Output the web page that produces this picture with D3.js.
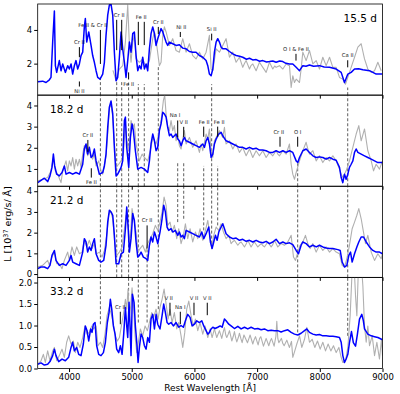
<!DOCTYPE html>
<html>
<head>
<meta charset="utf-8">
<script src="https://cdn.jsdelivr.net/npm/d3@7"></script>
<style>
body { margin: 0; background: #fff; }
svg text { font-family: "DejaVu Sans", sans-serif; }
</style>
</head>
<body>
<svg id="chart" width="400" height="394"></svg>
<script>
// wavelength range and epochs
const waveRange = [3500, 9000];
const xTicks = [4000, 5000, 6000, 7000, 8000, 9000];
const epochs = ["15.5 d", "18.2 d", "21.2 d", "33.2 d"];
const yDomains = [[0.13, 5.54], [0.18, 4.49], [-0.16, 4.24], [0, 2.12]];
const yTicks = [[2, 4], [1, 2, 3, 4], [0, 1, 2, 3, 4], [0, 0.5, 1, 1.5, 2]];

// spectra, [wavelength, luminosity]
const blue155 = [[3500,0.92],[3579,0.96],[3633,0.88],[3686,1.04],[3712,1.18],[3739,3.28],[3766,5.12],[3782,1.88],[3803,1.48],[3845,2.18],[3872,1.58],[3899,1.98],[3941,1.48],[3978,1.88],[4005,1.68],[4032,1.98],[4058,1.38],[4085,1.88],[4111,2.18],[4138,1.68],[4165,1.98],[4191,2.48],[4218,2.68],[4244,4.18],[4260,4.68],[4282,3.28],[4314,3.88],[4351,3.08],[4377,2.48],[4404,2.08],[4431,1.58],[4457,1.18],[4494,1.08],[4537,1.38],[4564,2.08],[4590,3.68],[4617,4.88],[4643,5.48],[4670,5.52],[4697,4.88],[4723,2.68],[4750,0.98],[4776,1.18],[4803,2.38],[4830,3.88],[4856,2.88],[4883,2.08],[4909,1.18],[4936,2.18],[4963,3.28],[4989,2.68],[5016,3.78],[5042,3.88],[5069,2.48],[5096,1.58],[5122,1.88],[5149,1.68],[5175,2.38],[5202,1.68],[5229,1.98],[5255,1.58],[5282,2.88],[5308,3.78],[5335,4.18],[5362,3.78],[5388,3.08],[5415,3.48],[5441,3.78],[5468,4.08],[5495,3.88],[5521,3.58],[5548,3.28],[5574,3.08],[5601,3.28],[5654,3.18],[5707,3.08],[5760,3.12],[5814,2.92],[5867,2.88],[5920,2.72],[5973,2.68],[6026,2.68],[6080,2.48],[6133,2.38],[6186,2.18],[6213,1.88],[6239,1.38],[6266,1.28],[6293,1.68],[6319,2.68],[6346,3.28],[6372,3.48],[6399,3.28],[6426,2.98],[6452,2.88],[6505,2.88],[6559,2.72],[6612,2.58],[6665,2.48],[6720,2.44],[6771,2.38],[6830,2.26],[6878,2.32],[6930,2.22],[6984,2.24],[7040,2.14],[7091,2.18],[7150,2.10],[7197,2.12],[7250,2.16],[7303,2.08],[7360,2.16],[7410,2.12],[7460,2.02],[7516,1.98],[7569,1.98],[7623,1.78],[7676,1.58],[7729,1.88],[7780,1.84],[7835,1.92],[7900,1.84],[7995,1.88],[8070,1.80],[8155,1.78],[8261,1.68],[8341,1.48],[8394,0.88],[8447,1.38],[8500,1.48],[8554,1.68],[8620,1.70],[8687,1.64],[8793,1.58],[8899,1.38],[9000,1.38]];
const grey155 = [[4700,1.6],[4750,1.0],[4803,1.68],[4856,1.88],[4899,3.28],[4936,5.48],[4963,3.08],[4989,2.08],[5016,3.28],[5042,3.68],[5069,2.28],[5122,2.08],[5175,2.28],[5229,1.78],[5282,2.18],[5335,3.48],[5362,3.88],[5399,3.08],[5441,1.88],[5468,2.08],[5495,3.68],[5521,4.18],[5548,3.88],[5601,3.08],[5654,3.48],[5707,2.78],[5760,2.68],[5814,3.48],[5867,2.68],[5920,3.18],[5973,2.48],[6026,2.28],[6080,2.68],[6133,2.28],[6186,2.68],[6239,3.68],[6266,1.68],[6293,1.58],[6346,2.88],[6399,2.68],[6452,3.08],[6505,3.48],[6559,2.38],[6612,2.68],[6665,2.08],[6718,2.38],[6771,1.78],[6800,2.02],[6825,2.18],[6878,1.68],[6905,1.90],[6931,1.98],[6984,1.58],[7037,2.08],[7091,1.78],[7144,1.48],[7197,2.08],[7250,1.68],[7280,1.86],[7303,1.78],[7357,1.88],[7410,1.68],[7463,1.98],[7516,1.88],[7543,0.58],[7569,1.28],[7596,0.88],[7623,1.08],[7676,0.88],[7702,1.68],[7729,2.68],[7782,2.18],[7835,2.78],[7889,1.98],[7942,2.18],[7995,1.68],[8048,2.38],[8101,1.88],[8155,2.38],[8208,1.78],[8261,1.78],[8314,1.18],[8367,1.08],[8410,0.78],[8447,1.18],[8500,1.78],[8554,2.38],[8607,2.98],[8660,3.18],[8713,2.28],[8766,1.68],[8820,1.48],[8873,1.58],[8926,2.08],[8979,1.58]];

const blue182 = [[3500,0.35],[3553,0.46],[3606,0.56],[3659,0.40],[3696,0.67],[3728,1.07],[3750,1.70],[3771,1.14],[3803,0.75],[3845,0.67],[3888,0.83],[3925,1.14],[3952,0.75],[4005,0.83],[4058,0.75],[4111,0.83],[4165,0.75],[4218,1.22],[4244,1.94],[4271,2.18],[4297,1.70],[4324,2.02],[4351,1.54],[4377,1.62],[4404,1.94],[4431,1.38],[4484,0.75],[4537,0.83],[4564,1.14],[4590,1.70],[4617,2.97],[4643,3.92],[4670,4.21],[4697,3.60],[4723,2.02],[4750,0.67],[4776,0.75],[4803,0.91],[4830,1.07],[4856,1.38],[4883,3.29],[4899,3.45],[4920,2.02],[4952,1.07],[4979,2.49],[5005,3.13],[5026,2.81],[5058,1.86],[5096,0.99],[5149,1.07],[5202,0.99],[5255,0.83],[5282,1.38],[5308,2.18],[5335,2.65],[5362,2.33],[5388,1.86],[5415,2.02],[5441,2.81],[5468,3.13],[5495,3.68],[5521,3.60],[5548,3.45],[5574,2.97],[5601,2.57],[5627,2.65],[5654,2.49],[5707,2.65],[5734,2.41],[5760,2.33],[5787,2.10],[5814,2.33],[5840,2.49],[5867,2.33],[5920,2.26],[5973,2.18],[6026,2.10],[6080,2.02],[6133,2.18],[6160,2.02],[6186,2.33],[6213,2.49],[6239,2.18],[6266,1.54],[6293,1.70],[6319,2.18],[6346,2.41],[6388,2.65],[6426,2.73],[6452,2.57],[6505,2.33],[6559,2.26],[6612,2.18],[6665,2.10],[6718,2.02],[6771,2.02],[6825,1.94],[6878,2.02],[6931,1.94],[6984,1.98],[7037,1.89],[7091,1.89],[7144,1.86],[7197,1.78],[7250,1.78],[7303,1.86],[7357,1.78],[7410,1.86],[7463,1.78],[7516,1.86],[7569,1.78],[7623,1.38],[7649,1.30],[7676,1.54],[7729,1.86],[7782,1.94],[7835,1.78],[7889,1.62],[7942,1.54],[7995,1.57],[8048,1.54],[8101,1.46],[8155,1.54],[8208,1.46],[8261,1.41],[8314,1.07],[8341,0.59],[8367,0.35],[8394,0.75],[8420,0.51],[8447,0.75],[8473,1.07],[8500,1.22],[8527,1.38],[8554,1.78],[8580,1.94],[8607,1.78],[8660,1.70],[8713,1.62],[8766,1.54],[8820,1.46],[8873,1.38],[8926,1.30],[9000,1.30]];
const grey182 = [[3500,0.43],[3579,0.51],[3659,0.59],[3712,0.91],[3750,1.54],[3782,0.91],[3819,0.75],[3872,0.35],[3899,0.91],[3952,1.38],[3978,0.91],[4005,1.38],[4032,1.14],[4058,1.54],[4085,0.99],[4111,1.46],[4138,1.14],[4165,1.46],[4191,1.07],[4218,1.70],[4244,2.10],[4271,1.94],[4297,1.62],[4324,1.86],[4377,1.46],[4404,1.70],[4431,1.14],[4473,1.38],[4510,0.91],[4537,0.75],[4590,1.62],[4617,2.65],[4643,3.84],[4670,4.08],[4697,3.45],[4723,2.18],[4750,1.07],[4792,1.22],[4830,1.38],[4867,1.70],[4899,3.13],[4920,2.33],[4952,1.86],[4989,3.29],[5016,2.97],[5042,3.13],[5069,2.18],[5096,1.78],[5122,1.38],[5165,1.70],[5202,1.54],[5255,1.38],[5308,2.02],[5335,2.49],[5388,2.18],[5431,2.65],[5468,3.29],[5505,4.24],[5526,4.48],[5548,3.60],[5574,2.97],[5601,2.81],[5627,3.29],[5654,2.81],[5680,3.05],[5707,2.33],[5734,2.57],[5760,2.10],[5787,1.94],[5814,2.41],[5840,2.81],[5867,2.18],[5920,2.49],[5973,2.02],[6026,2.33],[6080,1.78],[6106,2.18],[6133,1.86],[6186,2.65],[6213,2.41],[6239,2.89],[6266,1.86],[6293,1.54],[6319,2.33],[6346,2.49],[6399,2.81],[6452,2.49],[6479,2.97],[6505,2.18],[6559,2.33],[6612,1.94],[6640,2.10],[6665,2.18],[6718,1.78],[6771,2.02],[6800,1.80],[6825,1.62],[6878,1.94],[6931,1.54],[6960,1.72],[6984,1.86],[7037,1.62],[7091,1.86],[7144,1.54],[7197,1.78],[7250,1.62],[7303,1.86],[7330,1.70],[7357,1.62],[7410,1.86],[7463,1.70],[7516,2.18],[7543,1.22],[7569,0.75],[7596,0.51],[7623,0.83],[7676,1.38],[7729,1.86],[7782,2.26],[7809,1.94],[7835,1.70],[7889,1.86],[7942,1.38],[7995,1.62],[8048,1.30],[8101,1.54],[8155,1.38],[8208,1.62],[8261,1.38],[8314,0.99],[8341,0.75],[8367,0.59],[8420,0.91],[8473,1.38],[8527,2.02],[8580,2.65],[8622,3.05],[8660,2.33],[8713,2.89],[8766,1.86],[8820,1.38],[8857,0.91],[8899,1.22],[8952,0.99],[9000,1.38]];

const blue212 = [[3500,0.26],[3553,0.34],[3606,0.34],[3659,0.26],[3696,0.42],[3728,0.90],[3766,1.14],[3792,0.66],[3845,0.42],[3899,0.50],[3952,0.42],[4005,0.66],[4032,0.90],[4058,0.58],[4111,0.50],[4165,0.42],[4218,1.06],[4244,1.71],[4271,1.55],[4297,1.06],[4324,1.31],[4351,1.14],[4377,1.47],[4404,1.71],[4431,0.98],[4473,0.66],[4510,0.58],[4553,0.66],[4590,1.39],[4617,2.51],[4643,3.08],[4670,3.00],[4697,2.84],[4723,1.87],[4750,0.50],[4792,0.50],[4830,0.98],[4867,1.06],[4899,2.19],[4920,3.24],[4941,2.35],[4963,1.06],[4989,1.71],[5016,2.92],[5042,2.59],[5069,1.55],[5096,0.82],[5122,0.90],[5149,1.06],[5186,0.82],[5229,0.74],[5255,0.66],[5282,1.39],[5308,1.79],[5335,1.55],[5362,2.03],[5388,1.79],[5415,1.47],[5451,2.03],[5484,2.67],[5510,3.32],[5537,3.00],[5564,2.27],[5590,2.11],[5627,2.19],[5654,2.03],[5696,2.11],[5734,1.87],[5760,2.03],[5787,1.79],[5814,1.87],[5840,1.71],[5867,2.11],[5920,2.03],[5973,1.95],[6026,1.87],[6080,1.79],[6117,2.03],[6149,1.71],[6186,1.95],[6229,2.27],[6255,1.55],[6282,1.23],[6308,1.55],[6335,1.87],[6362,1.63],[6388,2.03],[6426,2.27],[6452,2.43],[6479,2.19],[6505,1.95],[6559,1.79],[6612,1.71],[6665,1.74],[6718,1.63],[6771,1.68],[6825,1.58],[6878,1.63],[6931,1.55],[6984,1.63],[7037,1.55],[7091,1.51],[7144,1.58],[7197,1.47],[7250,1.55],[7303,1.68],[7357,1.47],[7410,1.55],[7463,1.47],[7516,1.51],[7569,1.42],[7623,1.14],[7660,0.98],[7702,1.39],[7729,1.55],[7782,1.47],[7835,1.31],[7889,1.39],[7942,1.31],[7995,1.39],[8048,1.31],[8101,1.26],[8155,1.23],[8208,1.23],[8288,1.18],[8325,1.14],[8357,0.58],[8394,0.34],[8431,0.42],[8463,0.90],[8490,1.06],[8516,0.58],[8554,0.98],[8591,1.31],[8622,1.55],[8660,1.79],[8697,1.79],[8740,1.55],[8793,1.31],[8846,1.14],[8899,1.06],[8952,1.06],[9000,0.98]];
const grey212 = [[3500,0.34],[3579,0.42],[3659,0.66],[3686,0.42],[3728,0.82],[3766,1.06],[3803,0.50],[3845,0.50],[3888,0.26],[3925,0.66],[3978,1.06],[4005,0.66],[4047,1.31],[4085,0.90],[4122,1.31],[4165,0.98],[4207,1.06],[4244,1.63],[4282,1.31],[4324,1.63],[4367,1.23],[4404,1.47],[4441,0.98],[4484,1.06],[4526,0.82],[4564,1.14],[4601,1.87],[4633,2.84],[4659,3.08],[4697,2.67],[4728,1.55],[4760,0.90],[4803,1.06],[4846,1.31],[4883,2.19],[4909,2.84],[4946,2.19],[4973,1.47],[5005,3.16],[5032,2.67],[5069,2.03],[5101,1.06],[5133,1.23],[5175,1.39],[5218,1.06],[5255,1.47],[5292,1.71],[5335,1.95],[5377,2.35],[5415,2.11],[5451,2.51],[5484,3.00],[5516,3.72],[5548,3.32],[5574,2.35],[5611,2.51],[5643,2.03],[5680,2.35],[5718,1.71],[5750,2.19],[5787,1.47],[5824,1.87],[5856,2.43],[5893,1.71],[5931,2.19],[5973,1.55],[6016,2.03],[6053,1.71],[6090,2.19],[6133,1.63],[6176,2.11],[6213,2.59],[6239,2.03],[6277,1.23],[6308,1.87],[6346,2.27],[6388,2.11],[6426,2.43],[6463,2.03],[6505,1.71],[6548,1.87],[6585,1.47],[6610,1.56],[6638,1.63],[6692,1.39],[6720,1.50],[6745,1.55],[6798,1.31],[6825,1.45],[6851,1.63],[6904,1.31],[6930,1.44],[6958,1.55],[7011,1.31],[7064,1.47],[7090,1.38],[7117,1.31],[7170,1.55],[7224,1.31],[7250,1.42],[7277,1.63],[7330,1.31],[7383,1.47],[7436,1.39],[7489,1.55],[7543,1.87],[7580,0.82],[7612,0.66],[7649,1.06],[7686,1.39],[7729,1.55],[7771,1.87],[7809,1.47],[7846,1.23],[7889,1.47],[7942,1.06],[7995,1.39],[8048,1.14],[8101,1.31],[8155,1.06],[8208,1.23],[8261,1.06],[8314,0.98],[8357,0.42],[8394,0.34],[8431,0.74],[8473,1.39],[8516,2.19],[8554,2.51],[8591,2.84],[8622,3.16],[8660,2.67],[8687,2.19],[8729,1.47],[8766,1.87],[8820,1.06],[8873,0.66],[8926,0.98],[8979,0.74],[9000,0.98]];

const blue332 = [[3500,0.10],[3553,0.13],[3606,0.08],[3659,0.10],[3696,0.16],[3739,0.30],[3766,0.45],[3792,0.30],[3835,0.16],[3888,0.22],[3941,0.18],[3994,0.26],[4032,0.49],[4058,0.61],[4085,0.41],[4122,0.49],[4154,0.33],[4191,0.30],[4228,0.57],[4260,0.99],[4287,0.88],[4314,0.64],[4345,0.92],[4367,0.84],[4388,1.03],[4415,1.07],[4441,0.53],[4473,0.33],[4510,0.30],[4548,0.37],[4580,0.61],[4611,1.07],[4638,1.30],[4659,1.61],[4681,1.38],[4707,0.99],[4734,0.80],[4760,0.45],[4792,0.37],[4819,0.53],[4846,0.33],[4872,0.80],[4899,1.42],[4920,0.99],[4936,0.72],[4957,1.54],[4973,0.99],[4989,0.30],[5010,1.73],[5037,1.54],[5058,0.99],[5080,0.61],[5101,0.14],[5122,0.49],[5149,0.80],[5175,0.72],[5202,0.53],[5229,0.45],[5255,0.72],[5282,0.61],[5308,1.15],[5335,1.26],[5362,0.92],[5388,1.26],[5415,1.03],[5451,0.92],[5484,1.23],[5510,1.50],[5537,1.30],[5564,1.07],[5590,1.03],[5627,1.07],[5664,0.99],[5707,1.07],[5750,0.96],[5787,1.00],[5824,0.96],[5856,1.11],[5893,1.26],[5931,1.19],[5963,0.99],[6000,1.03],[6037,1.11],[6080,1.07],[6117,1.11],[6149,0.99],[6186,0.88],[6213,0.80],[6239,0.84],[6266,0.92],[6293,0.96],[6330,0.93],[6372,0.96],[6410,0.99],[6442,0.96],[6479,1.15],[6505,1.11],[6548,1.03],[6585,0.99],[6638,0.93],[6692,0.98],[6745,0.92],[6798,0.96],[6851,0.92],[6904,0.96],[6958,0.92],[7011,0.93],[7064,0.90],[7117,0.92],[7170,0.88],[7224,0.89],[7277,0.88],[7330,0.88],[7383,0.85],[7436,0.88],[7489,0.90],[7543,0.84],[7596,0.80],[7649,0.78],[7702,0.82],[7756,0.88],[7793,0.92],[7835,0.84],[7889,0.80],[7942,0.78],[7995,0.79],[8048,0.76],[8101,0.76],[8155,0.75],[8208,0.75],[8261,0.74],[8314,0.72],[8341,0.61],[8367,0.30],[8394,0.14],[8420,0.22],[8447,0.33],[8473,0.60],[8505,0.86],[8535,0.60],[8570,0.52],[8600,0.80],[8633,1.15],[8670,1.26],[8695,1.11],[8713,0.92],[8766,0.80],[8820,0.76],[8873,0.74],[8926,0.72],[9000,0.67]];
const grey332 = [[3500,0.10],[3553,0.18],[3590,0.33],[3622,0.14],[3659,0.41],[3696,0.18],[3739,0.41],[3766,0.49],[3803,0.18],[3845,0.30],[3888,0.45],[3925,0.26],[3962,0.61],[3994,0.76],[4032,0.57],[4069,0.64],[4101,0.37],[4138,0.61],[4175,0.49],[4218,0.72],[4255,0.99],[4287,0.80],[4324,0.84],[4361,0.99],[4393,0.92],[4431,0.99],[4462,0.53],[4500,0.61],[4537,0.49],[4574,0.80],[4606,1.23],[4643,1.42],[4675,1.26],[4707,1.03],[4739,0.76],[4771,0.64],[4803,0.72],[4835,0.99],[4867,1.26],[4899,1.61],[4920,1.38],[4941,1.85],[4963,1.23],[4984,1.46],[5005,1.88],[5026,1.54],[5053,0.76],[5080,0.37],[5106,0.61],[5138,0.92],[5175,0.76],[5213,0.99],[5250,0.88],[5282,1.07],[5319,1.30],[5351,1.19],[5388,1.38],[5420,1.15],[5451,1.42],[5484,1.61],[5516,1.85],[5548,1.50],[5580,1.15],[5611,1.38],[5643,1.07],[5680,1.30],[5718,0.92],[5750,1.07],[5787,0.76],[5814,0.49],[5846,0.84],[5877,1.38],[5910,1.57],[5947,1.23],[5984,0.99],[6016,1.15],[6053,0.88],[6090,1.07],[6133,0.80],[6170,0.99],[6213,0.72],[6250,0.92],[6282,0.72],[6319,0.92],[6356,0.72],[6399,0.88],[6436,0.70],[6460,0.85],[6479,0.95],[6500,0.78],[6516,0.72],[6540,0.80],[6559,0.88],[6596,0.64],[6620,0.75],[6638,0.86],[6660,0.70],[6676,0.62],[6700,0.72],[6718,0.82],[6740,0.70],[6761,0.60],[6790,0.78],[6803,0.74],[6846,0.60],[6870,0.70],[6888,0.78],[6931,0.57],[6950,0.66],[6974,0.74],[7000,0.62],[7016,0.55],[7040,0.70],[7059,0.74],[7101,0.52],[7125,0.62],[7144,0.70],[7186,0.53],[7210,0.64],[7229,0.70],[7271,0.52],[7300,0.75],[7314,1.10],[7330,0.70],[7346,0.60],[7388,0.70],[7410,0.58],[7431,0.53],[7474,0.66],[7500,0.55],[7516,0.49],[7548,0.63],[7569,0.26],[7601,0.41],[7633,0.57],[7676,0.76],[7713,0.49],[7756,0.68],[7793,0.96],[7835,0.61],[7878,0.68],[7920,0.49],[7963,0.64],[8006,0.45],[8048,0.61],[8091,0.41],[8133,0.57],[8176,0.41],[8218,0.53],[8261,0.37],[8304,0.49],[8341,0.26],[8367,0.14],[8410,0.18],[8447,0.49],[8484,1.23],[8516,2.3],[8540,2.6],[8570,1.69],[8591,1.23],[8615,2.3],[8650,2.7],[8687,1.92],[8713,0.99],[8740,0.61],[8766,0.99],[8793,0.53],[8836,0.76],[8873,0.30],[8910,0.61],[8952,0.22],[8984,0.68],[9000,0.30]];

const blueSpectra = [blue155, blue182, blue212, blue332];
const greySpectra = [grey155, grey182, grey212, grey332];

// line identifications: panel, label, label wavelength, tick wavelengths, tick range, side
const lineIds = [
  {p: 0, text: "Cr II", at: 4165, waves: [4165], lo: 2.38, hi: 2.98, side: "above"},
  {p: 0, text: "Ni II", at: 4165, waves: [4165], lo: 0.64, hi: 0.94, side: "below"},
  {p: 0, text: "Fe II & Cr II", at: 4380, waves: [4500], lo: 1.98, hi: 4.0, side: "above"},
  {p: 0, text: "Cr II", at: 4800, waves: [4760, 4840], lo: 2.8, hi: 4.6, side: "above"},
  {p: 0, text: "Fe II", at: 4950, waves: [4950], lo: 1.06, hi: 1.48, side: "below"},
  {p: 0, text: "Fe II", at: 5150, waves: [5105, 5200], lo: 3.1, hi: 4.48, side: "above"},
  {p: 0, text: "Cr II", at: 5424, waves: [5424], lo: 3.76, hi: 4.18, side: "above"},
  {p: 0, text: "Ni II", at: 5790, waves: [5775], lo: 3.58, hi: 3.88, side: "above"},
  {p: 0, text: "Si II", at: 6275, waves: [6275], lo: 3.38, hi: 3.78, side: "above"},
  {p: 0, text: "O I & Fe II", at: 7620, waves: [7620], lo: 2.18, hi: 2.58, side: "above"},
  {p: 0, text: "Ca II", at: 8445, waves: [8445], lo: 1.78, hi: 2.2, side: "above"},
  {p: 1, text: "Cr II", at: 4300, waves: [4300], lo: 1.81, hi: 2.37, side: "above"},
  {p: 1, text: "Fe II", at: 4355, waves: [4355], lo: 0.59, hi: 1.03, side: "below"},
  {p: 1, text: "Na I", at: 5690, waves: [5733], lo: 2.5, hi: 3.29, side: "above"},
  {p: 1, text: "V II", at: 5829, waves: [5829], lo: 2.5, hi: 2.99, side: "above"},
  {p: 1, text: "Fe II", at: 6155, waves: [6148], lo: 2.52, hi: 3.0, side: "above"},
  {p: 1, text: "Fe II", at: 6395, waves: [6371], lo: 2.52, hi: 3.0, side: "above"},
  {p: 1, text: "Cr II", at: 7345, waves: [7365], lo: 2.05, hi: 2.52, side: "above"},
  {p: 1, text: "O I", at: 7647, waves: [7647], lo: 2.05, hi: 2.52, side: "above"},
  {p: 2, text: "Cr II", at: 5245, waves: [5245], lo: 1.23, hi: 2.35, side: "above"},
  {p: 3, text: "Cr II", at: 4818, waves: [4818], lo: 1.03, hi: 1.32, side: "above"},
  {p: 3, text: "V II", at: 5590, waves: [5610], lo: 1.23, hi: 1.53, side: "above"},
  {p: 3, text: "Na I", at: 5775, waves: [5775], lo: 1.03, hi: 1.32, side: "above"},
  {p: 3, text: "V II", at: 5993, waves: [5993], lo: 1.24, hi: 1.53, side: "above"},
  {p: 3, text: "V II", at: 6205, waves: [6205], lo: 1.24, hi: 1.53, side: "above"}
];

// dashed guide lines: panel, wavelength, lower and upper level (null = axis edge)
const guides = [
  [0,4500,null,1.18],[0,4760,null,0.98],[0,4840,null,0.98],[0,4950,null,0.88],[0,5105,null,0.78],[0,5200,null,0.78],[0,5424,null,1.88],[0,6275,null,0.78],[0,8445,null,0.58],
  [1,4500,null,null],[1,4760,null,null],[1,4840,null,null],[1,4950,null,null],[1,5105,null,null],[1,5200,null,null],[1,5424,null,null],[1,6275,null,null],[1,8445,null,null],
  [1,5733,null,1.32],[1,5829,null,1.32],[1,6148,null,1.14],[1,6371,null,1.14],[1,7647,null,1.30],
  [2,4500,null,null],[2,4760,null,null],[2,4840,null,null],[2,4950,null,null],[2,5105,null,null],[2,5424,null,null],[2,7647,null,null],[2,8445,null,null],
  [2,5245,null,1.2],[2,5733,2.51,null],[2,5829,2.67,null],[2,6148,2.11,null],[2,6275,1.23,null],[2,6371,2.35,null],
  [3,4500,1.03,null],[3,4950,1.69,null],[3,5105,1.07,null],[3,5245,1.07,null],[3,5424,1.38,null],[3,7647,0.84,null],[3,8445,0.76,null]
];

const svg = d3.select("#chart");
const margin = {left: 37.7, right: 382.5, top: 4, bottom: 368.5};
const panelH = (margin.bottom - margin.top) / 4;

const x = d3.scaleLinear().domain(waveRange).range([margin.left, margin.right]);

epochs.forEach(function(label, i) {
    const top = margin.top + i * panelH;
    const y = d3.scaleLinear().domain(yDomains[i]).range([top + panelH, top]);
    const g = svg.append("g");

    g.append("clipPath").attr("id", "clip" + i)
        .append("rect")
        .attr("x", margin.left).attr("y", top)
        .attr("width", margin.right - margin.left).attr("height", panelH);

    const plot = g.append("g").attr("clip-path", "url(#clip" + i + ")");

    // dashed guides
    plot.selectAll("line.guide")
        .data(guides.filter(d => d[0] === i))
        .enter().append("line")
        .attr("class", "guide")
        .attr("x1", d => x(d[1])).attr("x2", d => x(d[1]))
        .attr("y1", d => d[2] === null ? top + panelH : y(d[2]))
        .attr("y2", d => d[3] === null ? top : y(d[3]))
        .attr("stroke", "#333").attr("stroke-width", 0.8)
        .attr("stroke-dasharray", "3,2");

    const line = d3.line().x(d => x(d[0])).y(d => y(d[1]));

    plot.append("path").datum(greySpectra[i])
        .attr("d", line).attr("fill", "none")
        .attr("stroke", "#b0b0b0").attr("stroke-width", 1.1)
        .attr("stroke-linejoin", "round");

    plot.append("path").datum(blueSpectra[i])
        .attr("d", line).attr("fill", "none")
        .attr("stroke", "#0000ff").attr("stroke-width", 1.5)
        .attr("stroke-linejoin", "round");

    // line identifications
    const ids = lineIds.filter(d => d.p === i);
    ids.forEach(function(d) {
        d.waves.forEach(function(w) {
            g.append("line")
                .attr("x1", x(w)).attr("x2", x(w))
                .attr("y1", y(d.lo)).attr("y2", y(d.hi))
                .attr("stroke", "#000").attr("stroke-width", 1);
        });
        g.append("text")
            .attr("x", x(d.at))
            .attr("y", d.side === "above" ? y(d.hi) - 3 : y(d.lo) + 6.5)
            .attr("text-anchor", "middle")
            .attr("font-size", 5.3)
            .attr("fill", "#222")
            .text(d.text);
    });

    // epoch label
    g.append("text")
        .attr("x", i === 0 ? 377 : 50)
        .attr("y", top + 18)
        .attr("text-anchor", i === 0 ? "end" : "start")
        .attr("font-size", 10.5)
        .text(label);

    // axes
    const yAxis = d3.axisLeft(y).tickValues(yTicks[i]).tickSize(3.5).tickPadding(2)
        .tickFormat(i === 3 ? d3.format(".1f") : d3.format("d"));
    g.append("g").attr("transform", "translate(" + margin.left + ",0)").call(yAxis)
        .call(a => a.select(".domain").remove())
        .call(a => a.selectAll("text").attr("font-size", 8.5).attr("font-family", "DejaVu Sans"));

    const xAxis = d3.axisBottom(x).tickValues(xTicks).tickSize(3.5).tickPadding(2)
        .tickFormat(i === 3 ? d3.format("d") : "");
    g.append("g").attr("transform", "translate(0," + (top + panelH) + ")").call(xAxis)
        .call(a => a.select(".domain").remove())
        .call(a => a.selectAll("text").attr("font-size", 8.5).attr("font-family", "DejaVu Sans"));

    g.append("rect")
        .attr("x", margin.left).attr("y", top)
        .attr("width", margin.right - margin.left).attr("height", panelH)
        .attr("fill", "none").attr("stroke", "#000").attr("stroke-width", 0.8);
});

svg.append("text")
    .attr("x", (margin.left + margin.right) / 2)
    .attr("y", 391)
    .attr("text-anchor", "middle")
    .attr("font-size", 9)
    .text("Rest Wavelength [Å]");

const yl = svg.append("text")
    .attr("transform", "translate(11,224) rotate(-90)")
    .attr("text-anchor", "middle")
    .attr("font-size", 9.5);
yl.append("tspan").text("L [10");
yl.append("tspan").attr("font-size", 6.5).attr("dy", -3.5).text("37");
yl.append("tspan").attr("dy", 3.5).text(" erg/s/ Å]");
</script>
</body>
</html>
